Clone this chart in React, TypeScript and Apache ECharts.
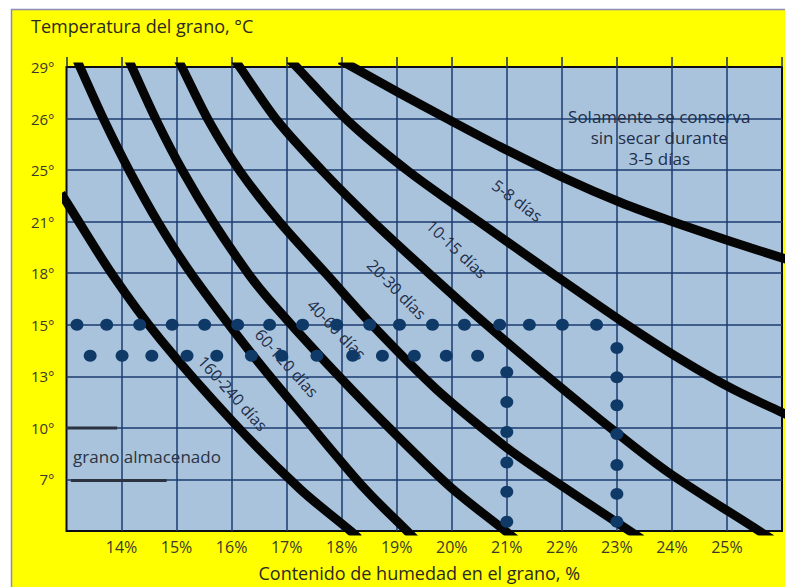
import React, { useEffect, useRef } from "react";
import * as echarts from "echarts";

// ---- axis tick labels ----
const yTickLabels = ["", "7°", "10°", "13°", "15°", "18°", "21°", "25°", "26°", "29°"];
const xTickLabels = ["", "14%", "15%", "16%", "17%", "18%", "19%", "20%", "21%", "22%", "23%", "24%", "25%", ""];

// ---- storage-time boundary curves: [moisture %, temperature row index] ----
const curve160_240: number[][] = [[12.9, 6.55], [13.009, 6.367], [13.833, 4.974], [14.705, 3.716], [16.03, 2.11], [17.245, 0.813], [18.161, 0], [18.31, -0.145]];
const curve60_120: number[][] = [[13.19, 9.136], [13.245, 9.0], [13.68, 7.974], [14.152, 6.967], [14.669, 5.98], [15.277, 4.974], [16.402, 3.387], [17.392, 2.11], [18.425, 0.813], [19.187, 0], [19.33, -0.155]];
const curve40_60: number[][] = [[14.13, 9.135], [14.188, 9.0], [14.638, 7.955], [15.119, 6.968], [15.674, 5.98], [16.316, 4.974], [16.679, 4.49], [17.61, 3.387], [18.76, 2.11], [19.956, 0.871], [20.974, 0], [21.155, -0.155]];
const curve20_30: number[][] = [[15.03, 9.135], [15.095, 9.0], [15.585, 7.955], [16.159, 6.968], [16.881, 5.98], [17.73, 4.974], [18.579, 3.968], [19.722, 2.748], [20.963, 1.645], [21.547, 1.2], [23.234, 0], [23.45, -0.155]];
const curve10_15: number[][] = [[16.06, 9.135], [16.148, 9.0], [16.833, 7.955], [17.666, 6.968], [18.591, 5.98], [19.611, 4.974], [20.667, 3.968], [21.652, 3.077], [22.913, 1.974], [23.927, 1.142], [25.587, 0], [25.81, -0.155]];
const curve5_8: number[][] = [[17.06, 9.135], [17.182, 9.0], [18.113, 7.955], [19.223, 6.968], [20.518, 5.98], [21.857, 4.974], [23.12, 4.045], [24.161, 3.329], [25.114, 2.748], [25.952, 2.323], [26.22, 2.189]];
const curve3_5: number[][] = [[17.97, 9.135], [18.198, 9.0], [19.047, 8.496], [19.954, 7.974], [20.885, 7.451], [22.037, 6.851], [23.08, 6.367], [23.962, 6.019], [25.087, 5.612], [25.987, 5.302], [26.22, 5.224]];
const curves = [curve160_240, curve60_120, curve40_60, curve20_30, curve10_15, curve5_8, curve3_5];

// ---- dotted guide lines ----
const dotsRow15X = [13.19, 13.73, 14.33, 14.92, 15.51, 16.11, 16.69, 17.29, 17.91, 18.51, 19.05, 19.65, 20.23, 20.87, 21.41, 22.01, 22.63];
const dotsRow15Y = 4;
const dotsRow14X = [13.43, 14.01, 14.55, 15.19, 15.73, 16.36, 16.91, 17.55, 18.2, 18.74, 19.32, 19.9, 20.47];
const dotsRow14Y = 3.4;
const dotsCol21Y = [3.08, 2.5, 1.92, 1.33, 0.76, 0.18];
const dotsCol21X = 21;
const dotsCol23Y = [3.55, 2.98, 2.44, 1.88, 1.28, 0.72, 0.18];
const dotsCol23X = 23;

// ---- short dark marks by "grano almacenado" ----
const mark10: number[][] = [[13.0, 2.0], [13.92, 2.0]];
const mark7: number[][] = [[13.08, 0.98], [14.82, 0.98]];

// ---- in-plot labels: [x, y, rotation deg (clockwise), text] ----
const curveLabels: [number, number, number, string][] = [
  [21.19, 6.41, 37, "5-8 días"],
  [20.09, 5.47, 43.5, "10-15 días"],
  [19.0, 4.69, 45.5, "20-30 días"],
  [17.91, 3.91, 46, "40-60 días"],
  [17.0, 3.26, 48, "60-120 días"],
  [16.02, 2.67, 48, "160-240 días"],
];
const noteText = "Solamente se conserva\nsin secar durante\n3-5 días";
const notePos = [23.77, 7.64];
const storedText = "grano almacenado";
const storedPos = [13.12, 1.45];

const FONT = "'Open Sans', 'DejaVu Sans', sans-serif";
const GRID_LINE = "#1b3b6e";
const DOT = "#0f3a68";

export default function App() {
  const ref = useRef<HTMLDivElement>(null);
  useEffect(() => {
    document.body.style.margin = "0";
    if (!ref.current) return;
    const chart = echarts.init(ref.current, null, { renderer: "svg" });
    const dots: number[][] = [
      ...dotsRow15X.map((x) => [x, dotsRow15Y]),
      ...dotsRow14X.map((x) => [x, dotsRow14Y]),
      ...dotsCol21Y.map((y) => [dotsCol21X, y]),
      ...dotsCol23Y.map((y) => [dotsCol23X, y]),
    ];
    chart.setOption({
      animation: false,
      backgroundColor: "#ffff00",
      title: {
        text: "Temperatura del grano, °C",
        left: 31,
        top: 17,
        padding: 0,
        textStyle: { fontSize: 18, fontWeight: "normal", fontFamily: FONT, color: "#2a2a22" },
      },
      grid: {
        left: 66.5,
        right: 2,
        top: 67,
        bottom: 55,
        show: true,
        backgroundColor: "#a9c3dd",
        borderColor: "#0c0c14",
        borderWidth: 2,
      },
      xAxis: [
        {
          type: "value",
          min: 13,
          max: 26,
          interval: 1,
          name: "Contenido de humedad en el grano, %",
          nameLocation: "middle",
          nameGap: 33,
          nameTextStyle: { fontSize: 18, fontFamily: FONT, color: "#2a2a22", padding: [0, 10, 0, 0] },
          axisLine: { show: false },
          axisTick: { show: false },
          axisLabel: {
            fontSize: 16,
            fontFamily: FONT,
            color: "#3a3a2a",
            margin: 8,
            formatter: (v: number) => xTickLabels[Math.round(v - 13)] ?? "",
          },
          splitLine: { show: true, showMinLine: false, showMaxLine: false, lineStyle: { color: GRID_LINE, width: 1.5 } },
        },
        {
          type: "value",
          position: "top",
          min: 13,
          max: 26,
          interval: 1,
          axisLine: { show: false },
          axisTick: { show: true, inside: false, length: 10, lineStyle: { color: "#1b2c50", width: 1.5 } },
          axisLabel: { show: false },
          splitLine: { show: false },
        },
      ],
      yAxis: {
        type: "value",
        min: 0,
        max: 9,
        interval: 1,
        axisLine: { show: false },
        axisTick: { show: false },
        axisLabel: {
          fontSize: 15,
          fontFamily: FONT,
          color: "#3a3a2a",
          margin: 12,
          formatter: (v: number) => yTickLabels[Math.round(v)] ?? "",
        },
        splitLine: { show: true, showMinLine: false, showMaxLine: false, lineStyle: { color: GRID_LINE, width: 1.5 } },
      },
      series: [
        {
          type: "line",
          data: mark10,
          showSymbol: false,
          symbol: "none",
          silent: true,
          z: 2,
          lineStyle: { color: "#2b3340", width: 3 },
        },
        {
          type: "line",
          data: mark7,
          showSymbol: false,
          symbol: "none",
          silent: true,
          z: 2,
          lineStyle: { color: "#2b3340", width: 3 },
        },
        ...curves.map((c) => ({
          type: "line",
          data: c,
          smooth: 0.3,
          showSymbol: false,
          symbol: "none",
          silent: true,
          clip: true,
          z: 3,
          lineStyle: { color: "#050505", width: 9, cap: "butt", join: "round" },
        })),
        {
          type: "scatter",
          data: dots,
          symbol: "circle",
          symbolSize: [13, 12],
          silent: true,
          z: 10,
          itemStyle: { color: DOT, opacity: 1 },
        },
      ],
    });

    const toPx = (p: number[]) => chart.convertToPixel({ gridIndex: 0 }, p) as number[];
    const labelEls = curveLabels.map(([x, y, rot, text]) => {
      const [px, py] = toPx([x, y]);
      return {
        type: "text",
        x: px,
        y: py,
        rotation: (-rot * Math.PI) / 180,
        z: 4,
        silent: true,
        style: { text, fontSize: 16, fontFamily: FONT, fill: "#1f2d48", align: "center", verticalAlign: "middle" },
      };
    });
    const [nx, ny] = toPx(notePos);
    const [sx, sy] = toPx(storedPos);
    chart.setOption({
      graphic: [
        { type: "rect", silent: true, z: 1, shape: { x: 0, y: 0, width: 785, height: 9 }, style: { fill: "#ffffff" } },
        { type: "rect", silent: true, z: 1, shape: { x: 0, y: 0, width: 11, height: 587 }, style: { fill: "#ffffff" } },
        {
          type: "polyline",
          silent: true,
          z: 1,
          shape: { points: [[11.5, 587], [11.5, 9.5], [785, 9.5]] },
          style: { stroke: "#8a8db8", lineWidth: 1.5, fill: "none" },
        },
        ...labelEls,
        {
          type: "text",
          x: nx,
          y: ny,
          z: 4,
          silent: true,
          style: {
            text: noteText,
            fontSize: 17,
            lineHeight: 21,
            fontFamily: FONT,
            fill: "#1f2d48",
            align: "center",
            verticalAlign: "middle",
          },
        },
        {
          type: "text",
          x: sx,
          y: sy,
          z: 4,
          silent: true,
          style: { text: storedText, fontSize: 17, fontFamily: FONT, fill: "#2a3442", align: "left", verticalAlign: "middle" },
        },
      ],
    });
    return () => chart.dispose();
  }, []);
  return <div ref={ref} style={{ width: 785, height: 587 }} />;
}
